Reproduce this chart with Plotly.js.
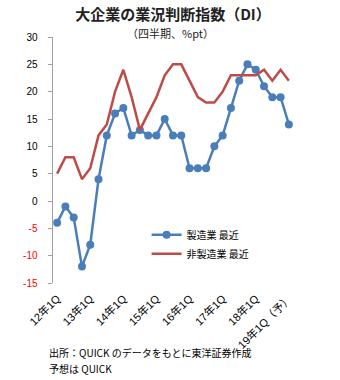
<!DOCTYPE html>
<html>
<head>
<meta charset="utf-8">
<script src="https://cdn.plot.ly/plotly-3.0.1.min.js"></script>
<style>html,body{margin:0;padding:0;background:#fff;}#chart{width:340px;height:380px;}</style>
</head>
<body>
<div id="chart"></div>
<script>
const categories = [
  '12年1Q','12年2Q','12年3Q','12年4Q',
  '13年1Q','13年2Q','13年3Q','13年4Q',
  '14年1Q','14年2Q','14年3Q','14年4Q',
  '15年1Q','15年2Q','15年3Q','15年4Q',
  '16年1Q','16年2Q','16年3Q','16年4Q',
  '17年1Q','17年2Q','17年3Q','17年4Q',
  '18年1Q','18年2Q','18年3Q','18年4Q',
  '19年1Q'
];
const manufacturing = [-4,-1,-3,-12,-8,4,12,16,17,12,13,12,12,15,12,12,6,6,6,10,12,17,22,25,24,21,19,19,14];
const nonManufacturing = [5,8,8,4,6,12,14,20,24,19,13,16,19,23,25,25,22,19,18,18,20,23,23,23,23,24,22,24,22];
const tickCategories = ['12年1Q','13年1Q','14年1Q','15年1Q','16年1Q','17年1Q','18年1Q','19年1Q'];
const tickLabels = ['12年1Q','13年1Q','14年1Q','15年1Q','16年1Q','17年1Q','18年1Q','19年1Q（予）'];
const yTicks = [-15,-10,-5,0,5,10,15,20,25,30];
const seriesNames = ['製造業 最近','非製造業 最近'];

const FONT = 'Liberation Sans, Arial, "Noto Sans CJK JP", sans-serif';
const yTickText = yTicks.map(v => v < 0 ? '<span style="color:#ff0000">' + v + '</span>' : String(v));

const traces = [
  {
    x: categories, y: manufacturing, name: seriesNames[0], type: 'scatter', mode: 'lines+markers',
    line: {color: '#4a7ebb', width: 2.5}, marker: {color: '#4a7ebb', size: 8},
    xaxis: 'x', yaxis: 'y'
  },
  {
    x: categories, y: nonManufacturing, name: seriesNames[1], type: 'scatter', mode: 'lines',
    line: {color: '#be4b48', width: 2.5},
    xaxis: 'x', yaxis: 'y'
  }
];

const layout = {
  width: 340, height: 380,
  margin: {l: 53, r: 47, t: 37, b: 97},
  paper_bgcolor: '#ffffff', plot_bgcolor: '#ffffff',
  font: {family: FONT, size: 10, color: '#000'},
  showlegend: true,
  title: {
    text: '大企業の業況判断指数（DI）',
    font: {family: '"Noto Sans CJK JP", sans-serif', size: 15, color: '#222', weight: 'bold'},
    x: 0.5, xanchor: 'center', xref: 'paper', y: 1 - 14.5/380, yanchor: 'middle'
  },
  xaxis: {
    type: 'category', range: [-0.5, 28.5],
    tickvals: tickCategories, ticktext: tickLabels, tickangle: -45,
    showline: false, showgrid: false, zeroline: false, ticks: '',
    ticklabelstandoff: 6,
    tickfont: {family: FONT, size: 11, color: '#000'}
  },
  xaxis2: {
    type: 'linear', overlaying: 'x', anchor: 'free', position: 1/3, side: 'bottom',
    range: [-0.5, 28.5], tick0: -0.5, dtick: 1,
    showline: true, linecolor: '#a0a0a0', linewidth: 1.5,
    ticks: 'outside', ticklen: 4, tickcolor: '#a0a0a0', tickwidth: 1,
    showticklabels: false, showgrid: false, zeroline: false
  },
  yaxis: {
    range: [-15, 30], tickvals: yTicks, ticktext: yTickText,
    showline: true, linecolor: '#a0a0a0', linewidth: 1.5,
    ticks: 'outside', ticklen: 4, tickcolor: '#a0a0a0',
    showgrid: false, zeroline: false, ticklabelstandoff: 8,
    tickfont: {family: FONT, size: 10, color: '#000'}
  },
  legend: {
    x: 0.39, xanchor: 'left', y: 0.255, yanchor: 'top',
    bgcolor: 'rgba(0,0,0,0)', font: {family: '"Noto Sans CJK JP", sans-serif', size: 10, color: '#000'},
    tracegroupgap: 0
  },
  annotations: [
    {text: '（四半期、%pt）', xref: 'paper', yref: 'paper', x: 0.49, y: 1 + 4/246, xanchor: 'center', yanchor: 'middle',
     showarrow: false, font: {family: '"Noto Sans CJK JP", sans-serif', size: 11, color: '#222'}},
    {text: '出所：QUICK のデータをもとに東洋証券作成', xref: 'paper', yref: 'paper', x: -6/240, y: -69/246, xanchor: 'left', yanchor: 'middle',
     showarrow: false, font: {family: '"Noto Sans CJK JP", sans-serif', size: 10, color: '#000'}},
    {text: '予想は QUICK', xref: 'paper', yref: 'paper', x: -6/240, y: -85/246, xanchor: 'left', yanchor: 'middle',
     showarrow: false, font: {family: '"Noto Sans CJK JP", sans-serif', size: 10, color: '#000'}}
  ]
};

Plotly.newPlot('chart', traces, layout, {displayModeBar: false, staticPlot: true});
</script>
</body>
</html>
